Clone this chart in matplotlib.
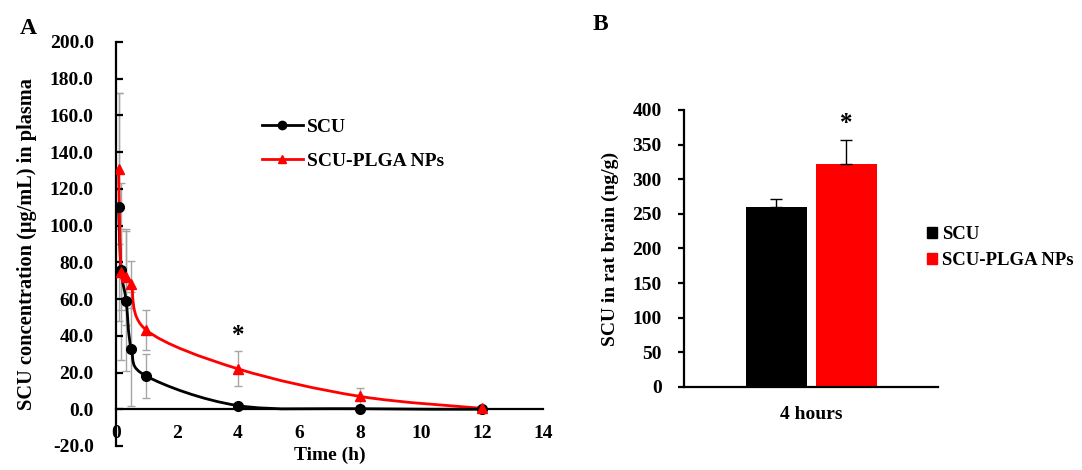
"""Plasma concentration curves (A) and brain concentration bars (B) for SCU vs SCU-PLGA NPs."""

import matplotlib

matplotlib.use("Agg")
import matplotlib.pyplot as plt
import numpy as np
from matplotlib.path import Path
from matplotlib.patches import PathPatch, Patch
from matplotlib.lines import Line2D

plt.rcParams["font.family"] = ["Liberation Serif", "DejaVu Serif"]
plt.rcParams["font.weight"] = "bold"
plt.rcParams["axes.labelweight"] = "bold"
plt.rcParams["axes.unicode_minus"] = False
plt.rcParams["font.size"] = 14

# panel A: plasma concentration (ug/mL) over time (h)
time_scu = [0.083, 0.167, 0.333, 0.5, 1, 4, 8, 12]
conc_scu = [110, 76, 59, 33, 18, 2, 0.3, 0]
err_scu = [62, 22, 38, 31, 12, 1, 0.3, 0]

time_nps = [0.083, 0.167, 0.333, 0.5, 1, 4, 8, 12]
conc_nps = [131, 75, 72, 68, 43, 22, 7, 0.5]
err_nps = [41, 48, 26, 13, 11, 9.5, 4.5, 0.5]

# panel B: brain concentration at 4 h (ng/g)
groups = ["SCU", "SCU-PLGA NPs"]
brain_conc = [260, 322]
brain_err = [12, 35]
category = "4 hours"

GRAY = "#a6a6a6"
RED = "#ff0000"


def smooth_path(xs, ys):
    """Excel-like smoothed line: cubic Bezier through every point."""
    pts = np.column_stack([xs, ys]).astype(float)
    padded = np.vstack([pts[0], pts, pts[-1]])
    verts = [pts[0]]
    codes = [Path.MOVETO]
    for i in range(len(pts) - 1):
        p0, p1, p2, p3 = padded[i], padded[i + 1], padded[i + 2], padded[i + 3]
        verts += [p1 + (p2 - p0) / 6, p2 - (p3 - p1) / 6, p2]
        codes += [Path.CURVE4] * 3
    return Path(verts, codes)


fig = plt.figure(figsize=(10.82, 4.70), dpi=100)

# ---- panel A ----
axA = fig.add_axes([0.1072, 0.0511, 0.3946, 0.8596])
axA.errorbar(time_scu, conc_scu, yerr=err_scu, fmt="none", ecolor=GRAY,
             elinewidth=1, capsize=3, capthick=1, zorder=1)
axA.errorbar(time_nps, conc_nps, yerr=err_nps, fmt="none", ecolor=GRAY,
             elinewidth=1, capsize=3, capthick=1, zorder=1)
axA.add_patch(PathPatch(smooth_path(time_scu, conc_scu), fill=False,
                        edgecolor="black", lw=2, zorder=2))
axA.add_patch(PathPatch(smooth_path(time_nps, conc_nps), fill=False,
                        edgecolor=RED, lw=2, zorder=2))
axA.plot(time_scu, conc_scu, "o", color="black", ms=7, zorder=3)
axA.plot(time_nps, conc_nps, "^", color=RED, ms=7, zorder=3)
axA.text(4, 40, "*", ha="center", va="center", fontsize=18)

axA.set_xlim(0, 14)
axA.set_ylim(-20, 200)
axA.set_xticks(range(0, 15, 2))
axA.set_yticks(range(-20, 201, 20))
axA.yaxis.set_major_formatter("{x:.1f}")
axA.spines[["top", "right"]].set_visible(False)
axA.spines["bottom"].set_position(("data", 0))
for s in ("left", "bottom"):
    axA.spines[s].set_linewidth(1.6)
axA.tick_params(axis="y", direction="in", length=5, width=1.6, pad=16)
axA.tick_params(axis="x", length=0, pad=11)
axA.set_xlabel("Time (h)", labelpad=4)
axA.set_ylabel("SCU concentration (\u03bcg/mL) in plasma", labelpad=9,
               fontsize=14.7)

handles_a = [
    Line2D([], [], color="black", lw=2, marker="o", ms=6),
    Line2D([], [], color=RED, lw=2, marker="^", ms=6),
]
fig.legend(handles_a, groups, loc="upper left", frameon=False,
           bbox_to_anchor=(262 / 1082, 1 - 118 / 470), borderpad=0,
           borderaxespad=0, handlelength=2.1, handletextpad=0.2,
           labelspacing=0.85)
fig.text(20 / 1082, 1 - 28 / 470, "A", fontsize=17, va="center")

# ---- panel B ----
axB = fig.add_axes([0.6322, 0.1766, 0.2348, 0.5894])
width = 0.3
offsets = [-0.172, 0.172]
for off, val, err, col in zip(offsets, brain_conc, brain_err, ["black", RED]):
    axB.bar(off, val, width=width, color=col, yerr=[[0], [err]],
            error_kw=dict(ecolor="black", elinewidth=1, capsize=4, capthick=1))
axB.text(offsets[1], 380, "*", ha="center", va="center", fontsize=18)
axB.set_xlim(-0.625, 0.625)
axB.set_ylim(0, 400)
axB.set_yticks(range(0, 401, 50))
axB.set_xticks([0])
axB.set_xticklabels([category])
axB.spines[["top", "right"]].set_visible(False)
for s in ("left", "bottom"):
    axB.spines[s].set_linewidth(1.6)
axB.tick_params(axis="y", direction="out", length=4, width=1.6, pad=12)
axB.tick_params(axis="x", length=0, pad=14)
axB.set_ylabel("SCU in rat brain (ng/g)", labelpad=10)

handles_b = [Patch(color="black"), Patch(color=RED)]
fig.legend(handles_b, groups, loc="upper left", frameon=False,
           bbox_to_anchor=(927 / 1082, 1 - 226 / 470), borderpad=0,
           borderaxespad=0, handlelength=0.55, handleheight=0.55,
           handletextpad=0.25, labelspacing=0.5, fontsize=13.5)
fig.text(593 / 1082, 1 - 25 / 470, "B", fontsize=17, va="center")

fig.savefig("out.png", dpi=100)
